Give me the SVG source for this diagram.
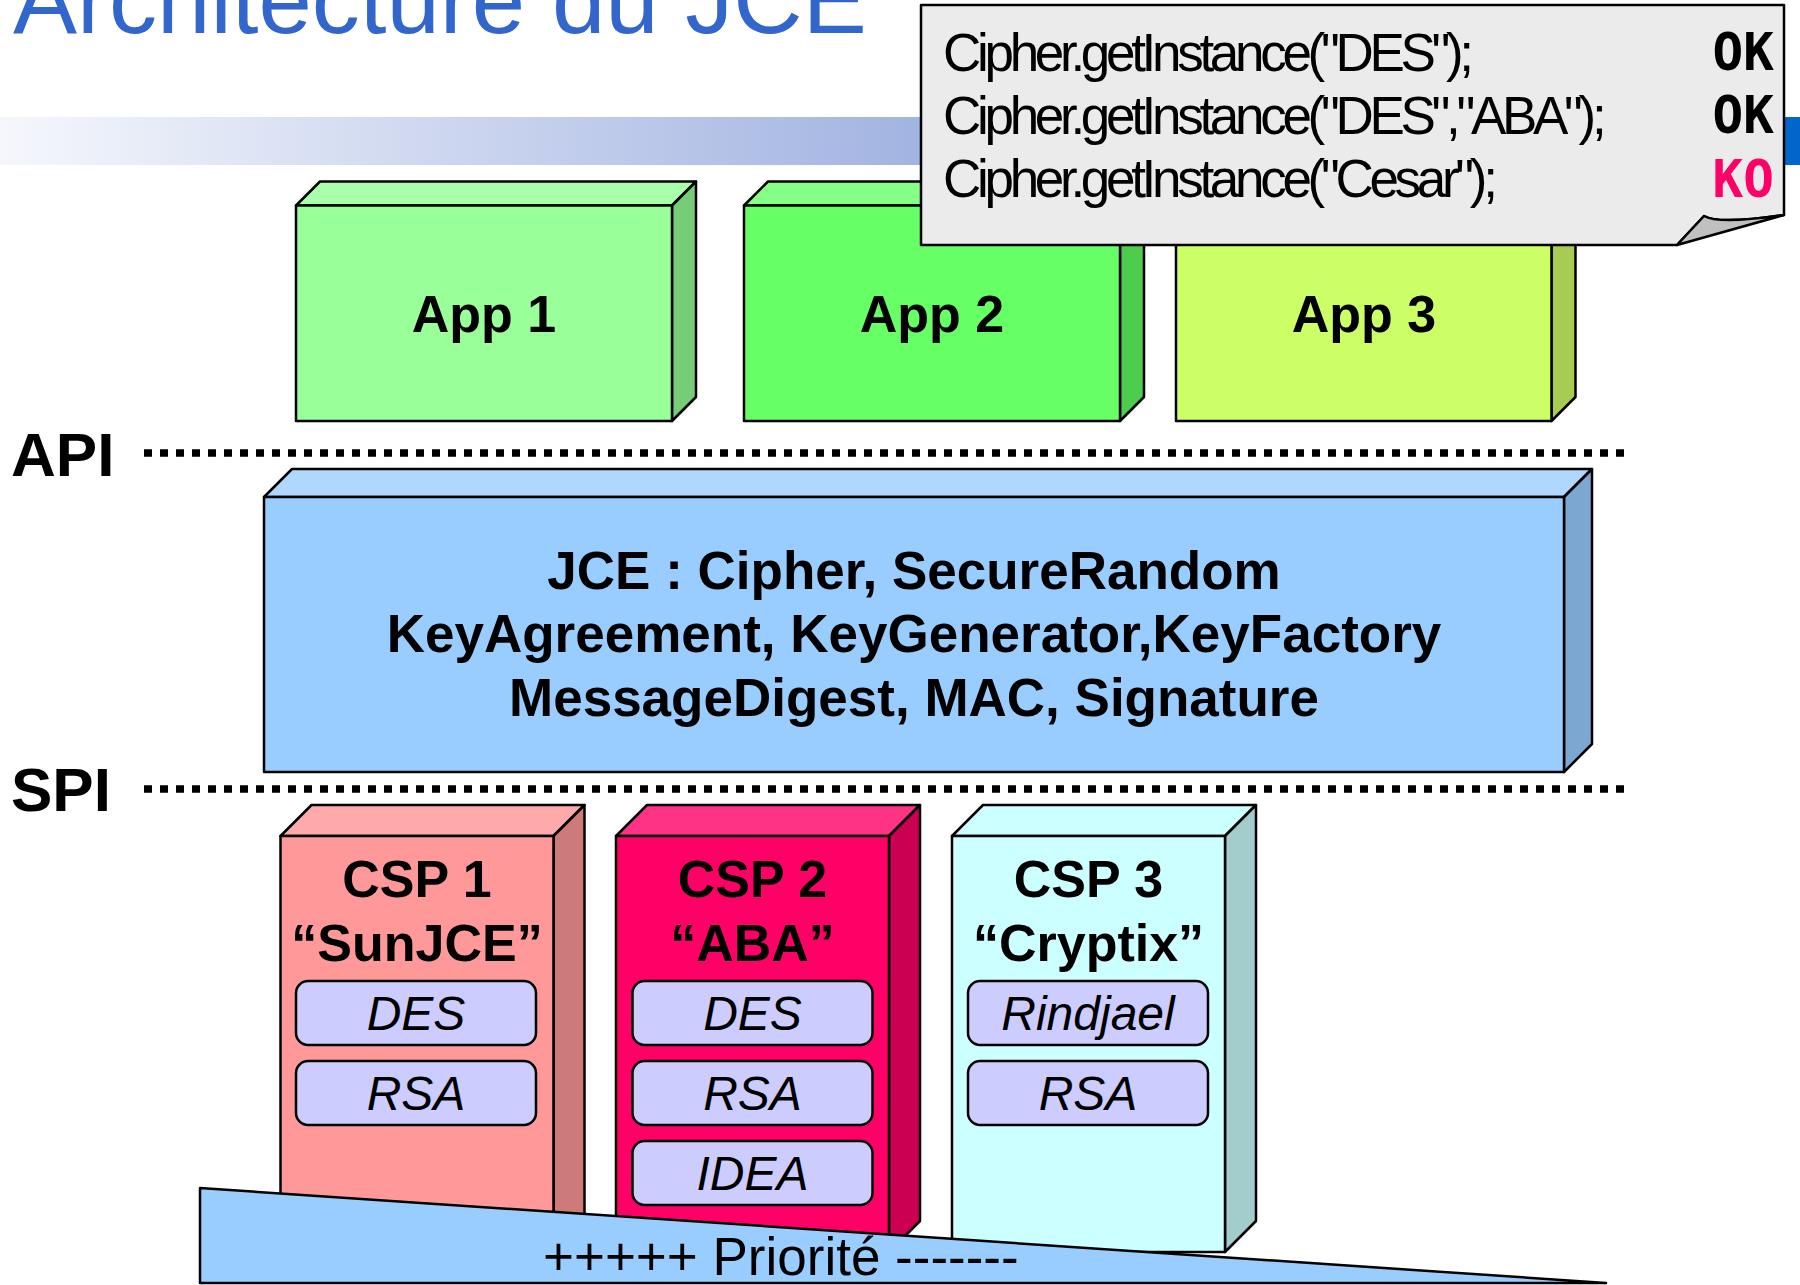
<svg xmlns="http://www.w3.org/2000/svg" width="1800" height="1285" viewBox="0 0 1800 1285">
<defs>
<linearGradient id="bar" x1="0" y1="0" x2="1" y2="0">
<stop offset="0" stop-color="#f5f7fc"/>
<stop offset="0.5" stop-color="#a4b5e2"/>
<stop offset="1" stop-color="#0066cc"/>
</linearGradient>
</defs>
<style>
text{font-family:"Liberation Sans",Arial,sans-serif;}
.b{font-weight:bold;}
.edge{stroke:#000;stroke-width:2.5;stroke-linejoin:round;}
.dots{stroke:#000;stroke-width:7.5;stroke-dasharray:8 8;fill:none;}
.pill{fill:#ccccff;stroke:#000;stroke-width:2.5;}
.alg{font-style:italic;font-size:48px;text-anchor:middle;}
.lbl{font-weight:bold;font-size:52px;text-anchor:middle;}
.code{font-size:53px;letter-spacing:-4.3px;}
.ok{font-family:"DejaVu Sans Mono",monospace;font-weight:bold;font-size:51px;text-anchor:end;}
</style>
<rect width="1800" height="1285" fill="#fff"/>
<text x="13" y="33" font-size="96" fill="#3366cc">Architecture du JCE</text>
<rect x="0" y="117" width="1800" height="48" fill="url(#bar)"/>

<g id="app1">
<polygon class="edge" fill="#aaffaa" points="296,205.5 320,181.5 696,181.5 672,205.5"/>
<polygon class="edge" fill="#77cc77" points="672,205.5 696,181.5 696,397 672,421"/>
<rect class="edge" fill="#99ff99" x="296" y="205.5" width="376" height="215.5"/>
<text class="lbl" x="484" y="332">App 1</text>
</g>
<g id="app2">
<polygon class="edge" fill="#85ff85" points="744,205.5 768,181.5 1144,181.5 1120,205.5"/>
<polygon class="edge" fill="#4dcc4d" points="1120,205.5 1144,181.5 1144,397 1120,421"/>
<rect class="edge" fill="#66ff66" x="744" y="205.5" width="376" height="215.5"/>
<text class="lbl" x="932" y="332">App 2</text>
</g>
<g id="app3">
<polygon class="edge" fill="#d9ff85" points="1176,205.5 1200,181.5 1575.5,181.5 1551.5,205.5"/>
<polygon class="edge" fill="#a8cc52" points="1551.5,205.5 1575.5,181.5 1575.5,397 1551.5,421"/>
<rect class="edge" fill="#ccff66" x="1176" y="205.5" width="375.5" height="215.5"/>
<text class="lbl" x="1364" y="332">App 3</text>
</g>

<g id="layers">
<text class="b" x="11" y="476" font-size="62">API</text>
<line class="dots" x1="144" y1="453" x2="1624" y2="453"/>
<text class="b" x="11" y="811" font-size="62">SPI</text>
<line class="dots" x1="144" y1="789" x2="1624" y2="789"/>
</g>

<g id="jce">
<polygon class="edge" fill="#b0d8ff" points="264,497 292,469 1592,469 1564,497"/>
<polygon class="edge" fill="#7ba7d1" points="1564,497 1592,469 1592,744 1564,772"/>
<rect class="edge" fill="#99ccff" x="264" y="497" width="1300" height="275"/>
<text class="b" font-size="53" text-anchor="middle" x="914" y="589">JCE : Cipher, SecureRandom</text>
<text class="b" font-size="53" text-anchor="middle" x="914" y="652">KeyAgreement, KeyGenerator,KeyFactory</text>
<text class="b" font-size="53" text-anchor="middle" x="914" y="716">MessageDigest, MAC, Signature</text>
</g>

<g id="csp1">
<polygon class="edge" fill="#ffaaaa" points="280.5,836 311.5,805 584.5,805 553.5,836"/>
<polygon class="edge" fill="#cc7a7a" points="553.5,836 584.5,805 584.5,1221 553.5,1252"/>
<rect class="edge" fill="#ff9999" x="280.5" y="836" width="273" height="416"/>
<text class="lbl" x="417" y="897">CSP 1</text>
<text class="lbl" x="417" y="961">“SunJCE”</text>
<rect class="pill" x="296" y="981" width="240" height="64" rx="12"/>
<text class="alg" x="416" y="1030">DES</text>
<rect class="pill" x="296" y="1061" width="240" height="64" rx="12"/>
<text class="alg" x="416" y="1110">RSA</text>
</g>
<g id="csp2">
<polygon class="edge" fill="#ff3385" points="616,836 647,805 920,805 889,836"/>
<polygon class="edge" fill="#cc0052" points="889,836 920,805 920,1221 889,1252"/>
<rect class="edge" fill="#ff0066" x="616" y="836" width="273" height="416"/>
<text class="lbl" x="752.5" y="897">CSP 2</text>
<text class="lbl" x="752.5" y="961">“ABA”</text>
<rect class="pill" x="632.5" y="981" width="240" height="64" rx="12"/>
<text class="alg" x="752.5" y="1030">DES</text>
<rect class="pill" x="632.5" y="1061" width="240" height="64" rx="12"/>
<text class="alg" x="752.5" y="1110">RSA</text>
<rect class="pill" x="632.5" y="1141" width="240" height="64" rx="12"/>
<text class="alg" x="752.5" y="1190">IDEA</text>
</g>
<g id="csp3">
<polygon class="edge" fill="#ccffff" points="952,836 983,805 1256,805 1225,836"/>
<polygon class="edge" fill="#a3cccc" points="1225,836 1256,805 1256,1221 1225,1252"/>
<rect class="edge" fill="#ccffff" x="952" y="836" width="273" height="416"/>
<text class="lbl" x="1088.5" y="897">CSP 3</text>
<text class="lbl" x="1088.5" y="961">“Cryptix”</text>
<rect class="pill" x="968" y="981" width="240" height="64" rx="12"/>
<text class="alg" x="1088" y="1030">Rindjael</text>
<rect class="pill" x="968" y="1061" width="240" height="64" rx="12"/>
<text class="alg" x="1088" y="1110">RSA</text>
</g>

<g id="priority">
<polygon class="edge" fill="#99ccff" stroke-width="3" points="200,1188 1606,1283 200,1283"/>
<text x="543" y="1275" font-size="53">+++++ Priorité -------</text>
</g>

<g id="callout">
<path class="edge" fill="#ebebeb" stroke-width="3" d="M921,5 H1784 V215 C1750,220 1716,223 1704,216 L1677,245 H921 Z"/>
<path class="edge" fill="#c0c0c0" stroke-width="3" d="M1677,245 L1704,216 C1716,223 1750,220 1784,215 Z"/>
<text class="code" x="943" y="71">Cipher.getInstance("DES");</text>
<text class="code" x="943" y="134">Cipher.getInstance("DES","ABA");</text>
<text class="code" x="943" y="197">Cipher.getInstance("Cesar");</text>
<text class="ok" x="1774" y="70">OK</text>
<text class="ok" x="1774" y="133">OK</text>
<text class="ok" x="1774" y="197" fill="#ff0066">KO</text>
</g>
</svg>
